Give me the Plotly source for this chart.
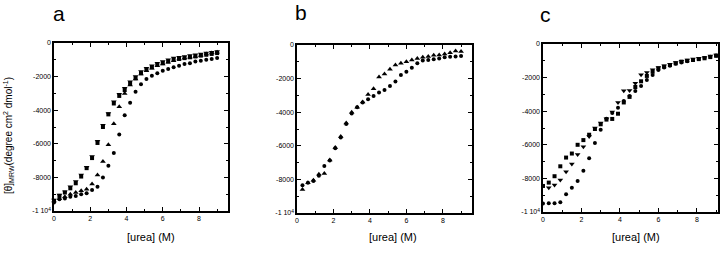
import plotly.graph_objects as go

# ---------------- data ----------------
urea_a = [0.0, 0.3, 0.6, 0.9, 1.2, 1.5, 1.8, 2.1, 2.4, 2.7, 3.0, 3.3, 3.6, 3.9, 4.2, 4.5,
          4.8, 5.1, 5.4, 5.7, 6.0, 6.3, 6.6, 6.9, 7.2, 7.5, 7.8, 8.1, 8.4, 8.7, 9.0]
a_square = [-9400, -9100, -8900, -8650, -8350, -7950, -7450, -6850, -5950, -5000, -4250, -3600,
            -3150, -2800, -2400, -2100, -1800, -1600, -1450, -1300, -1200, -1100, -1000, -950,
            -900, -850, -800, -750, -700, -650, -600]
a_tridown = [-9350, -9050, -8850, -8550, -8250, -7850, -7400, -6750, -5850, -4900, -4200, -3500,
             -3050, -2700, -2300, -2000, -1700, -1500, -1350, -1200, -1100, -1000, -900, -850,
             -800, -750, -700, -650, -600, -550, -500]
a_triup = [-9400, -9250, -9150, -9000, -8900, -8800, -8700, -8400, -7850, -7050, -6050, -4800,
           -3800, -3000, -2500, -2150, -1850, -1650, -1500, -1350, -1250, -1150, -1050, -950,
           -900, -850, -800, -750, -650, -600, -550]
a_circle = [-9500, -9300, -9250, -9150, -9100, -9000, -8950, -8750, -8550, -8000, -7300, -6550,
            -5450, -4300, -3550, -2900, -2450, -2150, -1950, -1800, -1650, -1550, -1450, -1350,
            -1250, -1200, -1100, -1050, -1000, -950, -900]

urea_b = [0.3, 0.6, 0.9, 1.2, 1.5, 1.8, 2.1, 2.4, 2.7, 3.0, 3.3, 3.6, 3.9, 4.2, 4.5,
          4.8, 5.1, 5.4, 5.7, 6.0, 6.3, 6.6, 6.9, 7.2, 7.5, 7.8, 8.1, 8.4, 8.7, 9.0]
b_circle = [-8350, -8200, -8100, -7780, -7200, -6880, -6150, -5500, -4700, -4070, -3710, -3430,
            -3230, -3040, -2820, -2680, -2440, -2180, -1790, -1590, -1350, -1090, -930, -890,
            -850, -800, -730, -700, -680, -650]
b_triup = [-8600, -8200, -8050, -7700, -7650, -6850, -6100, -5450, -4650, -4000, -3700, -3400,
           -2950, -2600, -1900, -1730, -1450, -1190, -1090, -990, -890, -800, -730, -690,
           -610, -600, -540, -460, -360, -380]

urea_c = [0.0, 0.3, 0.6, 0.9, 1.2, 1.5, 1.8, 2.1, 2.4, 2.7, 3.0, 3.3, 3.6, 3.9, 4.2, 4.5,
          4.8, 5.1, 5.4, 5.7, 6.0, 6.3, 6.6, 6.9, 7.2, 7.5, 7.8, 8.1, 8.4, 8.7, 9.0]
c_square = [-8450, -8250, -7870, -7280, -6760, -6520, -6000, -5720, -5400, -5060, -4780, -4500,
            -4460, -4150, -3480, -3150, -2560, -2220, -1900, -1650, -1450, -1350, -1250, -1150,
            -1050, -1000, -950, -900, -850, -780, -700]
urea_c_tri = urea_c[1:]
c_tridown = [-8550, -8400, -8100, -7600, -7150, -6580, -6120, -5500, -5000, -4700, -4450,
             -4050, -3480, -2790, -2770, -2330, -1830, -1690, -1530, -1400, -1300, -1200, -1100,
             -1020, -950, -900, -850, -800, -720, -650]
c_circle = [-9500, -9480, -9480, -9420, -8950, -8560, -8150, -7550, -6800, -5900, -5100, -4450,
            -4100, -3800, -3400, -3100, -2800, -2500, -2150, -1850, -1550, -1400, -1300, -1180,
            -1100, -1020, -950, -900, -830, -760, -680]

x_ticks = [0, 2, 4, 6, 8]
y_ticks = [-10000, -8000, -6000, -4000, -2000, 0]
y_ticktext = ["-1 10<sup>4</sup>", "-8000", "-6000", "-4000", "-2000", "0"]
panel_letters = ["a", "b", "c"]
x_title = "[urea] (M)"
y_title = "[θ]<sub>MRW</sub>(degree cm<sup>2</sup> dmol<sup>-1</sup>)"

# ---------------- figure ----------------
W, H = 720, 254
FONT = "Liberation Sans, Arial, sans-serif"

def px_x(p):
    return p / W

def px_y(p):
    return 1 - p / H

panels = [
    dict(x0=54, x1=228, y0=43, y1=211, xmax=9.6),
    dict(x0=297, x1=472, y0=45, y1=213, xmax=9.6),
    dict(x0=543, x1=718, y0=44, y1=212, xmax=9.1),
]

fig = go.Figure()

series = [
    (1, urea_a, a_square, "square", 4),
    (1, urea_a, a_tridown, "triangle-down", 5),
    (1, urea_a, a_triup, "triangle-up", 5),
    (1, urea_a, a_circle, "circle", 4),
    (2, urea_b, b_circle, "circle", 4),
    (2, urea_b, b_triup, "triangle-up", 5),
    (3, urea_c, c_square, "square", 4),
    (3, urea_c_tri, c_tridown, "triangle-down", 5),
    (3, urea_c, c_circle, "circle", 4),
]
for k, xs, ys, sym, sz in series:
    sfx = "" if k == 1 else str(k)
    fig.add_trace(go.Scatter(x=xs, y=ys, mode="markers", xaxis="x" + sfx, yaxis="y" + sfx,
                             marker=dict(symbol=sym, size=sz, color="black", line=dict(width=0)),
                             showlegend=False, hoverinfo="skip", cliponaxis=False))

layout = dict(width=W, height=H, margin=dict(l=0, r=0, t=0, b=0, autoexpand=False),
              paper_bgcolor="white", plot_bgcolor="white", showlegend=False,
              font=dict(family=FONT, color="black"))

for i, p in enumerate(panels):
    k = i + 1
    sfx = "" if k == 1 else str(k)
    layout["xaxis" + sfx] = dict(
        domain=[px_x(p["x0"]), px_x(p["x1"])], range=[0, p["xmax"]], automargin=False,
        anchor="y" + sfx, tickvals=x_ticks, ticks="inside", ticklen=4, tickwidth=1,
        tickcolor="black", showline=True, linecolor="black", linewidth=1.6, mirror="ticks",
        showgrid=False, zeroline=False, tickfont=dict(size=7, family=FONT, color="black"),
        minor=dict(dtick=1, ticks="inside", ticklen=2, tickcolor="black", showgrid=False),
        fixedrange=True)
    layout["yaxis" + sfx] = dict(
        domain=[px_y(p["y1"]), px_y(p["y0"])], range=[-10000, 0], automargin=False,
        anchor="x" + sfx, tickvals=y_ticks, ticktext=y_ticktext, ticks="inside", ticklen=4,
        tickwidth=1, tickcolor="black", showline=True, linecolor="black", linewidth=1.6,
        mirror="ticks", showgrid=False, zeroline=False,
        tickfont=dict(size=7, family=FONT, color="black"),
        minor=dict(dtick=1000, ticks="inside", ticklen=2, tickcolor="black", showgrid=False),
        fixedrange=True)

fig.update_layout(**layout)

annotations = []
letter_pos = [(59, 13), (301, 12), (545, 14)]
for letter, (lx, ly) in zip(panel_letters, letter_pos):
    annotations.append(dict(text=letter, x=px_x(lx), y=px_y(ly), xref="paper", yref="paper",
                            xanchor="center", yanchor="middle", showarrow=False,
                            font=dict(size=21, family=FONT, color="black")))
for cx in [151, 393, 636]:
    annotations.append(dict(text=x_title, x=px_x(cx), y=px_y(237), xref="paper", yref="paper",
                            xanchor="center", yanchor="middle", showarrow=False,
                            font=dict(size=11, family=FONT, color="black")))
annotations.append(dict(text=y_title, x=px_x(8), y=px_y(136), xref="paper", yref="paper",
                        xanchor="center", yanchor="middle", textangle=-90, showarrow=False,
                        font=dict(size=10, family=FONT, color="black")))
fig.update_layout(annotations=annotations)

fig.write_html("out.html", config={"displayModeBar": False, "staticPlot": True},
               post_script="document.body.style.margin='0';document.body.style.padding='0';"
                           "document.body.style.overflow='hidden';")
